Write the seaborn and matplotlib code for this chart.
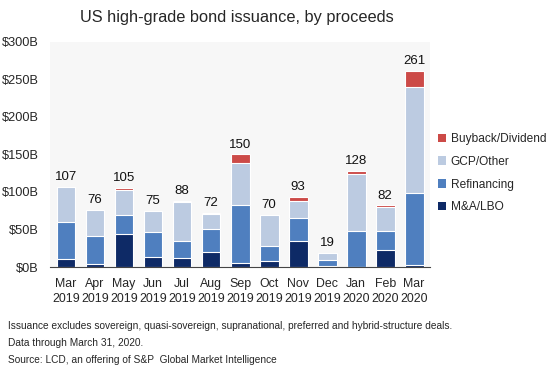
import matplotlib
matplotlib.use("Agg")
import matplotlib.pyplot as plt
import seaborn as sns
import numpy as np
import pandas as pd
from matplotlib.patches import Patch

months = ["Mar\n2019", "Apr\n2019", "May\n2019", "Jun\n2019", "Jul\n2019", "Aug\n2019",
          "Sep\n2019", "Oct\n2019", "Nov\n2019", "Dec\n2019", "Jan\n2020", "Feb\n2020", "Mar\n2020"]
ma_lbo      = [11, 4, 44, 13, 12, 20, 6, 8, 35, 1, 0, 23, 3]
refinancing = [49, 37, 25, 34, 23, 31, 77, 20, 30, 8, 48, 25, 95]
gcp_other   = [47, 35, 34, 27, 52, 20, 56, 42, 23, 10, 76, 32, 142]
buyback     = [0, 0, 2, 1, 1, 1, 11, 0, 5, 0, 4, 2, 21]
totals      = [107, 76, 105, 75, 88, 72, 150, 70, 93, 19, 128, 82, 261]
ytick_vals  = [0, 50, 100, 150, 200, 250, 300]
ytick_labels = ["$0B", "$50B", "$100B", "$150B", "$200B", "$250B", "$300B"]

series = ["M&A/LBO", "Refinancing", "GCP/Other", "Buyback/Dividend"]
colors = {"M&A/LBO": "#0e2a66", "Refinancing": "#4f7fbf",
          "GCP/Other": "#bccbe1", "Buyback/Dividend": "#cc4a47"}

df = pd.DataFrame({"month": months, "M&A/LBO": ma_lbo, "Refinancing": refinancing,
                   "GCP/Other": gcp_other, "Buyback/Dividend": buyback})
cum = df[series].cumsum(axis=1)
cum["month"] = months

sns.set_style("white")
plt.rcParams["font.family"] = ["Liberation Sans", "DejaVu Sans"]

fig = plt.figure(figsize=(5.5, 3.74), dpi=100)
ax = fig.add_axes([0.091, 0.286, 0.691, 0.602])
ax.set_facecolor("#f7f7f7")

for s in reversed(series):
    sns.barplot(data=cum, x="month", y=s, color=colors[s], width=0.65,
                edgecolor="white", linewidth=0.8, ax=ax, saturation=1)

for i, t in enumerate(totals):
    ax.text(i, t + 5, str(t), ha="center", va="bottom", fontsize=9.5, color="#111111")

ax.set_ylim(0, 300)
ax.set_xlim(-0.55, 12.55)
ax.set_yticks(ytick_vals)
ax.set_yticklabels(ytick_labels, fontsize=9.2)
ax.tick_params(axis="x", labelsize=8.9, length=0, pad=8)
for lab in ax.get_xticklabels():
    lab.set_linespacing(1.35)
ax.tick_params(axis="y", length=0, pad=8)
ax.set_xlabel("")
ax.set_ylabel("")
for sp in ["top", "right", "left"]:
    ax.spines[sp].set_visible(False)
ax.spines["bottom"].set_color("#444444")
ax.spines["bottom"].set_linewidth(0.8)

handles = [Patch(facecolor=colors[s], edgecolor="none") for s in reversed(series)]
fig.legend(handles, list(reversed(series)), loc="center left", bbox_to_anchor=(0.777, 0.537),
           frameon=False, fontsize=8.6, handlelength=0.7, handleheight=0.7,
           handletextpad=0.35, labelspacing=0.9)

fig.text(0.43, 0.952, "US high-grade bond issuance, by proceeds", ha="center", va="center",
         fontsize=11.8)
notes = ["Issuance excludes sovereign, quasi-sovereign, supranational, preferred and hybrid-structure deals.",
         "Data through March 31, 2020.",
         "Source: LCD, an offering of S&P  Global Market Intelligence"]
for k, n in enumerate(notes):
    fig.text(0.015, 1 - (326 + 17 * k) / 374, n, ha="left", va="center", fontsize=7.3)

fig.savefig("out.png", dpi=100, facecolor="white")
